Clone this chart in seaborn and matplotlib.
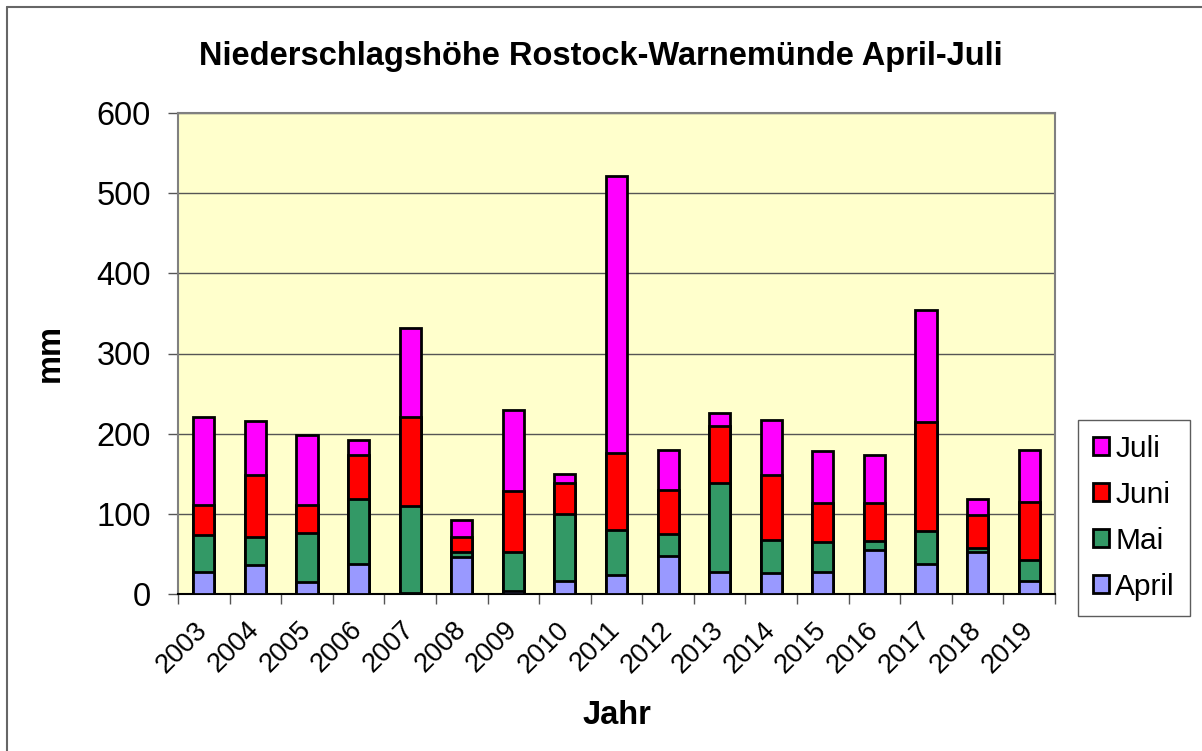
import numpy as np
import pandas as pd
import matplotlib.pyplot as plt
from matplotlib.patches import Patch
import seaborn as sns

# Daten (mm)
jahre = ['2003', '2004', '2005', '2006', '2007', '2008', '2009', '2010', '2011',
         '2012', '2013', '2014', '2015', '2016', '2017', '2018', '2019']
april = [27, 36, 15, 38, 1, 46, 4, 16, 24, 48, 28, 26, 27, 55, 38, 52, 16]
mai = [47, 35, 61, 81, 109, 6, 49, 84, 56, 27, 110, 41, 38, 11, 40, 6, 26]
juni = [37, 78, 35, 55, 111, 19, 75, 38, 96, 55, 72, 81, 48, 47, 137, 41, 73]
juli = [110, 67, 87, 18, 111, 21, 102, 12, 345, 50, 16, 69, 66, 61, 139, 19, 65]

monate = ['April', 'Mai', 'Juni', 'Juli']
farben = {'April': '#9999FF', 'Mai': '#339966', 'Juni': '#FF0000', 'Juli': '#FF00FF'}

df = pd.DataFrame({'Jahr': jahre, 'April': april, 'Mai': mai, 'Juni': juni, 'Juli': juli})
cum = df[monate].cumsum(axis=1)
cum['Jahr'] = df['Jahr']

sns.set_style('white')
plt.rcParams['font.family'] = ['Liberation Sans', 'DejaVu Sans']
plt.rcParams['text.color'] = 'black'
plt.rcParams['axes.labelcolor'] = 'black'
plt.rcParams['xtick.color'] = 'black'
plt.rcParams['ytick.color'] = 'black'

fig = plt.figure(figsize=(12.02, 7.51), dpi=100)
ax = fig.add_axes([178 / 1202, 1 - 594 / 751, (1055 - 178) / 1202, (594 - 113) / 751])
ax.set_facecolor('#FFFFCC')

# gestapelte Balken: oberste Summe zuerst zeichnen
for m in reversed(monate):
    sns.barplot(data=cum, x='Jahr', y=m, color=farben[m], width=0.41,
                edgecolor='black', linewidth=2, saturation=1, ax=ax, zorder=3)

ax.set_xlim(-0.5, len(jahre) - 0.5)
ax.set_ylim(0, 600)
ax.set_yticks(range(0, 601, 100))
ax.yaxis.grid(True, color='#555555', linewidth=1, zorder=0)
ax.set_axisbelow(True)
for s in ax.spines.values():
    s.set_color('#808080')
    s.set_linewidth(1.5)
ax.spines['bottom'].set_color('black')

ax.tick_params(axis='y', labelsize=23.5, length=7, width=1, color='#555555', pad=12.5, left=True)
ax.set_xticks(range(len(jahre)))
ax.set_xticklabels(jahre, rotation=45, ha='right', va='center', rotation_mode='anchor', fontsize=19.5)
ax.tick_params(axis='x', length=0, pad=23)
ax.set_xticks(np.arange(-0.5, len(jahre), 1), minor=True)
ax.tick_params(axis='x', which='minor', length=7, width=1, color='#555555', bottom=True)

ax.set_xlabel('Jahr', fontsize=23.5, fontweight='bold')
ax.xaxis.set_label_coords(0.5, (594 - 700) / 481)
ax.set_ylabel('mm', fontsize=23.5, fontweight='bold')
ax.yaxis.set_label_coords((66 - 178) / 877, 0.5)
fig.text(0.5, 1 - 57 / 751, 'Niederschlagshöhe Rostock-Warnemünde April-Juli',
         ha='center', va='center', fontsize=23.5, fontweight='bold')

handles = [Patch(facecolor=farben[m], edgecolor='black', linewidth=2, label=m)
           for m in reversed(monate)]
leg = fig.legend(handles=handles, loc='upper left',
                 bbox_to_anchor=(1078 / 1202, 1 - 420 / 751), fontsize=21.5,
                 frameon=True, fancybox=False, handlelength=0.55, handleheight=0.55,
                 handletextpad=0.2, labelspacing=0.6, borderpad=0.5, borderaxespad=0)
leg.get_frame().set_edgecolor('#333333')
leg.get_frame().set_linewidth(1)

# Rahmen um die gesamte Grafik
fig.add_artist(plt.Line2D([7 / 1202, 7 / 1202], [0, 1 - 7 / 751], color='#666666', linewidth=1.5))
fig.add_artist(plt.Line2D([7 / 1202, 1], [1 - 7 / 751, 1 - 7 / 751], color='#666666', linewidth=1.5))

fig.savefig('out.png', dpi=100)
